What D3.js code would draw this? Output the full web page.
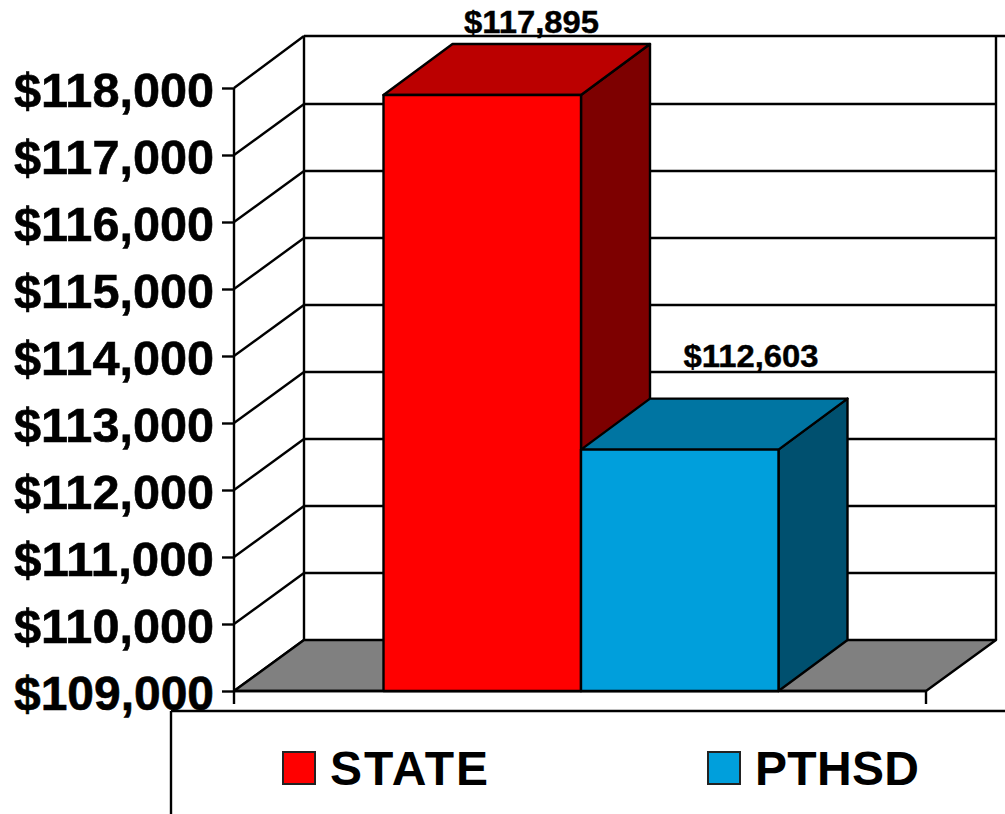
<!DOCTYPE html>
<html><head><meta charset="utf-8">
<script src="https://cdn.jsdelivr.net/npm/d3@7"></script>
<style>html,body{margin:0;padding:0;background:#fff}svg{display:block}text{font-family:"Liberation Sans",Arial,sans-serif;font-weight:bold;fill:#000}</style>
</head><body><svg id="c" width="1005" height="814"></svg>
<script>
const categories = ["STATE", "PTHSD"];
const values = [117895, 112603];
const valueLabels = ["$117,895", "$112,603"];
const tickValues = [109000,110000,111000,112000,113000,114000,115000,116000,117000,118000];
const frontColors = ["#ff0000", "#009fdc"];
const topColors = ["#bb0000", "#0075a2"];
const sideColors = ["#7d0000", "#00506f"];

const svg = d3.select("#c");
const y = d3.scaleLinear().domain([109000, 118000]).range([691, 88]);
const x = d3.scaleBand().domain(categories).range([383.5, 778.5]).padding(0);
const dx = 69, dy = -51, wallDx = 70, wallR = 926, floorX = 234;
const sw = 2.4;
const line = (a,b,c,d,w=sw) => svg.append("line").attr("x1",a).attr("y1",b).attr("x2",c).attr("y2",d).attr("stroke","#000").attr("stroke-width",w);
const poly = (pts,f) => svg.append("polygon").attr("points",pts.map(p=>p.join(",")).join(" ")).attr("fill",f).attr("stroke","#000").attr("stroke-width",sw).attr("stroke-linejoin","round");

// back wall gridlines and diagonal wall lines
tickValues.forEach(t => {
  const yy = y(t);
  if (t > 109000 && t < 118000) line(floorX+wallDx, yy+dy, wallR+wallDx, yy+dy);
  line(floorX, yy, floorX+wallDx, yy+dy-(t===118000?1:0));
});
line(floorX+wallDx, y(118000)+dy-1, 1005, y(118000)+dy-1);
line(floorX+wallDx, y(118000)+dy-1, floorX+wallDx, y(109000)+dy);
line(wallR+wallDx, y(118000)+dy-1, wallR+wallDx, y(109000)+dy);

// floor
poly([[floorX,y(109000)],[floorX+wallDx,y(109000)+dy],[wallR+wallDx,y(109000)+dy],[wallR,y(109000)]], "#808080");

// left axis
const axis = d3.axisLeft(y).tickValues(tickValues).tickSize(12).tickPadding(8).tickFormat(d3.format("$,.0f"));
const ag = svg.append("g").attr("transform",`translate(${floorX},0)`).call(axis);
ag.select(".domain").attr("d",`M0,${y(118000)}V704`).attr("stroke","#000").attr("stroke-width",sw);
ag.selectAll(".tick line").attr("stroke","#000").attr("stroke-width",sw);
ag.selectAll(".tick text").attr("font-size",48).attr("font-family",null).attr("x",-20).attr("dy",null).attr("y",18)
  .attr("textLength",200).attr("lengthAdjust","spacingAndGlyphs").attr("stroke","#000").attr("stroke-width",0.6);
line(wallR, y(109000), wallR, 704);
line(floorX, y(109000), wallR, y(109000));

// bars
categories.forEach((c,i) => {
  const x0 = x(c), x1 = x0 + x.bandwidth(), t = y(values[i]), b = y(109000);
  poly([[x1,t],[x1+dx,t+dy],[x1+dx,b+dy],[x1,b]], sideColors[i]);
  poly([[x0,t],[x0+dx,t+dy],[x1+dx,t+dy],[x1,t]], topColors[i]);
  poly([[x0,t],[x1,t],[x1,b],[x0,b]], frontColors[i]);
});
// data labels sit above the bar tops
const addLabel = (cx, by, s) => svg.append("text").attr("x",cx).attr("y",by).attr("text-anchor","middle")
  .attr("font-size",32).attr("textLength",135).attr("lengthAdjust","spacingAndGlyphs")
  .attr("stroke","#000").attr("stroke-width",0.4).text(s);
addLabel(x("STATE")+148, y(values[0])+dy-11, valueLabels[0]);
addLabel(x("PTHSD")+170, y(values[1])+dy-32, valueLabels[1]);

// legend
line(171,711,1005,711);
line(171,711,171,814);
const lx = [283, 708], tx = [330, 755], tw = [158, 164];
categories.forEach((c,i) => {
  svg.append("rect").attr("x",lx[i]).attr("y",752).attr("width",32).attr("height",32).attr("fill",frontColors[i]).attr("stroke","#222").attr("stroke-width",2);
  svg.append("text").attr("x",tx[i]).attr("y",785).attr("font-size",48).attr("textLength",tw[i]).attr("lengthAdjust","spacing").text(c);
});
</script></body></html>
